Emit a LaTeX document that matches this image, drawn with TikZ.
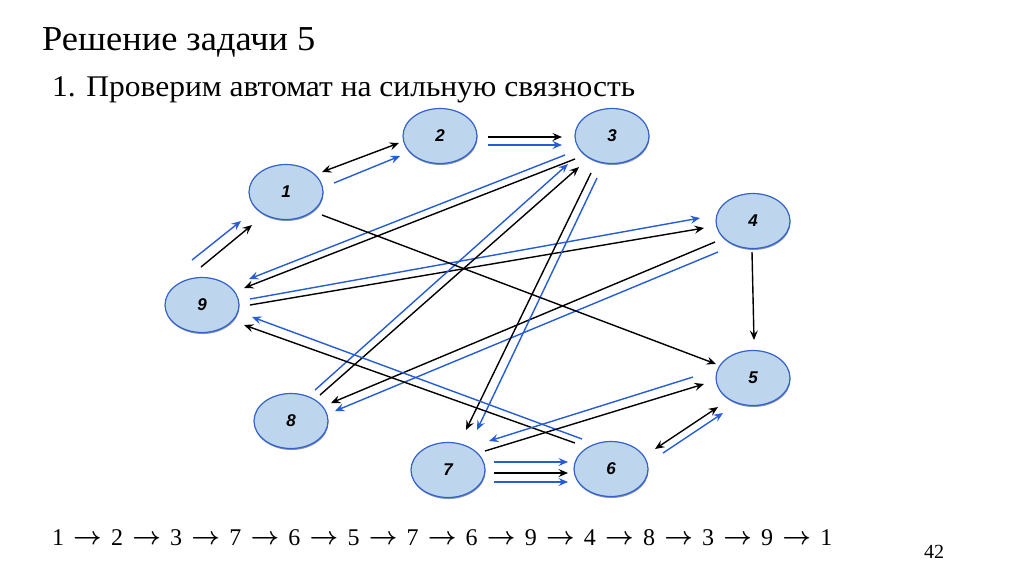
\documentclass[tikz,border=0pt]{standalone}
\usepackage{fontspec}
\setmainfont{Liberation Serif}
\newfontfamily\lsans{Liberation Sans}
\usetikzlibrary{shapes.geometric,arrows.meta,shadows}
\definecolor{nodefill}{RGB}{189,214,238}
\definecolor{nodeline}{RGB}{52,98,200}
\definecolor{arrblue}{RGB}{38,92,212}
\newcommand{\seqarrow}{\mbox{\boldmath$\rightarrow$}}
\tikzset{
  st/.style={ellipse, draw=nodeline, line width=1.2pt, fill=nodefill,
    minimum width=74pt, minimum height=55pt, inner sep=0pt,
    font=\lsans\bfseries\itshape\fontsize{17}{17}\selectfont,
    drop shadow={shadow xshift=0.5pt, shadow yshift=-1.5pt, fill=nodeline!60!black, opacity=0.55}},
  >={Stealth[length=9.5pt,width=8pt,inset=3.5pt]},
  bk/.style={line width=1.4pt, draw=black},
  bl/.style={line width=1.4pt, draw=arrblue},
  seq/.style={font=\fontsize{24}{24}\selectfont, inner sep=0pt},
  seqarr/.style={font=\fontsize{27}{27}\selectfont, inner sep=0pt},
}
\begin{document}
\begin{tikzpicture}[x=1pt,y=-1pt]
\useasboundingbox (0,0) rectangle (1024,574);
\fill[white] (0,0) rectangle (1024,574);

\node[anchor=base west, inner sep=0pt, font=\fontsize{35}{35}\selectfont, xscale=1.04, transform shape] (title) at (42,50) {Решение задачи 5};
\node[anchor=base west, inner sep=0pt, font=\fontsize{30}{30}\selectfont, xscale=1.05, transform shape] (sub) at (52,96) {1. Проверим автомат на сильную связность};

\node[st] (n1) at (286,192) {1};
\node[st] (n2) at (440,136) {2};
\node[st] (n3) at (612,136) {3};
\node[st] (n4) at (753,221) {4};
\node[st] (n5) at (753,378) {5};
\node[st] (n6) at (611,469) {6};
\node[st] (n7) at (448,470) {7};
\node[st] (n8) at (291,421) {8};
\node[st] (n9) at (202,305) {9};

% 1 <-> 2
\draw[bk,<->] ([shift={(36,-20)}]n1.center) -- ([shift={(-41,7)}]n2.center);
\draw[bl,->] ([shift={(48,-9)}]n1.center) -- ([shift={(-40,20)}]n2.center);
% 2 -> 3
\draw[bk,->] ([shift={(48,1)}]n2.center) -- ([shift={(-50,1)}]n3.center);
\draw[bl,->] ([shift={(48,9)}]n2.center) -- ([shift={(-50,9)}]n3.center);
% 9 -> 1
\draw[bk,->] ([shift={(-1,-38)}]n9.center) -- ([shift={(-34,33)}]n1.center);
\draw[bl,->] ([shift={(-10,-45)}]n9.center) -- ([shift={(-45,29)}]n1.center);
% 3 -> 9
\draw[bk,->] ([shift={(-37,23)}]n3.center) -- ([shift={(42,-17)}]n9.center);
\draw[bl,->] ([shift={(-47,19)}]n3.center) -- ([shift={(47,-26)}]n9.center);
% 9 -> 4
\draw[bk,->] ([shift={(48,0)}]n9.center) -- ([shift={(-49,7)}]n4.center);
\draw[bl,->] ([shift={(48,-6)}]n9.center) -- ([shift={(-53,-3)}]n4.center);
% 8 -> 3
\draw[bk,->] ([shift={(29,-26)}]n8.center) -- ([shift={(-33,31)}]n3.center);
\draw[bl,->] ([shift={(24,-31)}]n8.center) -- ([shift={(-44,28)}]n3.center);
% 4 -> 8
\draw[bk,->] ([shift={(-38,21)}]n4.center) -- ([shift={(40,-18)}]n8.center);
\draw[bl,->] ([shift={(-35,31)}]n4.center) -- ([shift={(44,-10)}]n8.center);
% 3 -> 7
\draw[bk,->] ([shift={(-21,37)}]n3.center) -- ([shift={(18,-40)}]n7.center);
\draw[bl,->] ([shift={(-15,42)}]n3.center) -- ([shift={(29,-40)}]n7.center);
% 1 -> 5
\draw[bk,->] ([shift={(36,23)}]n1.center) -- ([shift={(-37,-14)}]n5.center);
% 6 -> 9
\draw[bk,->] ([shift={(-36,-26)}]n6.center) -- ([shift={(42,20)}]n9.center);
\draw[bl,->] ([shift={(-29,-30)}]n6.center) -- ([shift={(50,12)}]n9.center);
% 7 -> 5, 5 -> 7
\draw[bk,->] ([shift={(37,-19)}]n7.center) -- ([shift={(-49,6)}]n5.center);
\draw[bl,->] ([shift={(-60,-1)}]n5.center) -- ([shift={(41,-29)}]n7.center);
% 7 -> 6
\draw[bl,->] ([shift={(46,-8)}]n7.center) -- ([shift={(-43,-7)}]n6.center);
\draw[bk,->] ([shift={(46,3)}]n7.center) -- ([shift={(-43,4)}]n6.center);
\draw[bl,->] ([shift={(46,12)}]n7.center) -- ([shift={(-43,13)}]n6.center);
% 6 <-> 5
\draw[bk,<->] ([shift={(44,-20)}]n6.center) -- ([shift={(-35,29)}]n5.center);
\draw[bl,->] ([shift={(52,-16)}]n6.center) -- ([shift={(-30,35)}]n5.center);
% 4 -> 5
\draw[bk,->] ([shift={(-1,31)}]n4.center) -- ([shift={(1,-38)}]n5.center);

% sequence
\foreach \d [count=\i from 0] in {1,2,3,7,6,5,7,6,9,4,8,3,9,1} {
  \node[seq, anchor=base] (d\i) at ({58+59.1*\i},545) {\d};
}
\foreach \i in {0,...,12} {
  \node[seqarr, anchor=base] (a\i) at ({58+59.1*\i+29.55},544) {\seqarrow};
}
\node[anchor=base, inner sep=0pt, font=\fontsize{20}{20}\selectfont] (pg) at (934,558) {42};
\end{tikzpicture}
\end{document}
